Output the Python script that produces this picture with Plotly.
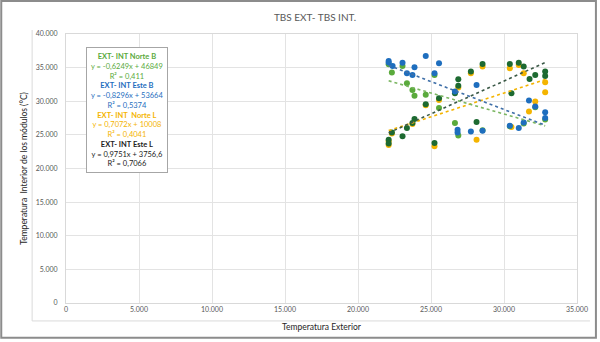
import plotly.graph_objects as go

# ---------------- data ----------------
# Norte L (gold)
nl_x = [22100, 22100, 22320, 23730, 24640, 25240, 25550, 26870, 27730, 28120, 28530, 30400, 30510, 31010, 31350, 31710, 32140, 32820, 32820]
nl_y = [24050, 23500, 25200, 26600, 29400, 23300, 30200, 32040, 34160, 24290, 35150, 34900, 26170, 35400, 34160, 28480, 29970, 32830, 31350]
# Este L (dark green)
el_x = [22100, 22100, 22320, 23050, 23350, 23730, 23870, 24640, 25240, 25550, 26640, 26870, 26870, 27730, 28120, 28530, 30400, 30510, 31010, 31350, 31750, 32140, 32820, 32820]
el_y = [24290, 23700, 25370, 24780, 26020, 26760, 27350, 29570, 23800, 30460, 31200, 33280, 32290, 34410, 26900, 35540, 35540, 31200, 35740, 35150, 33320, 33910, 34410, 33770]
# Norte B (light green)
nb_x = [22100, 22320, 23050, 23350, 23730, 23870, 24640, 25240, 25550, 26640, 26870, 28530, 30400, 31350, 32140, 32820]
nb_y = [35500, 34260, 35250, 32680, 31690, 30800, 30950, 33910, 28980, 26760, 24920, 25700, 26300, 26700, 29100, 27300]
# Este B (blue)
eb_x = [22100, 22100, 22370, 23050, 23350, 23730, 23870, 24640, 25240, 25550, 26640, 26820, 26820, 27730, 28120, 28530, 30400, 31010, 31350, 31710, 32140, 32820, 32820]
eb_y = [36000, 35750, 35250, 35740, 34160, 33910, 35040, 36730, 34160, 35650, 31450, 25770, 25370, 25520, 32430, 25620, 26360, 26020, 26850, 30110, 29220, 28380, 27500]

series_names = ["EXT- INT Norte L", "EXT- INT Este L", "EXT- INT Norte B", "EXT- INT Este B"]
trend_slope = [0.7072, 0.9751, -0.6249, -0.8296]
trend_icpt = [10008, 3756.6, 46849, 53664]
eq_text = ["y = -0,6249x + 46849", "R² = 0,411",
           "y = -0,8296x + 53664", "R² = 0,5374",
           "y = 0,7072x + 10008", "R² = 0,4041",
           "y = 0,9751x + 3756,6", "R² = 0,7066"]

x_ticks = [0, 5000, 10000, 15000, 20000, 25000, 30000, 35000]
y_ticks = [0, 5000, 10000, 15000, 20000, 25000, 30000, 35000, 40000]

# ---------------- styling ----------------
C_GOLD = "#F4B400"
C_DKGREEN = "#1D6A31"
C_GREEN = "#5AAA3C"
C_BLUE = "#1E6EBE"
FONT = "Lato"

data = [(nl_x, nl_y, C_GOLD), (el_x, el_y, C_DKGREEN), (nb_x, nb_y, C_GREEN), (eb_x, eb_y, C_BLUE)]
trend_colors = [C_GOLD, "#3C5A48", "#7BB661", "#3F6FA8"]

fig = go.Figure()
for (xs, ys, col), name in zip(data, series_names):
    fig.add_trace(go.Scatter(x=xs, y=ys, mode="markers", name=name,
                             marker=dict(color=col, size=6, line=dict(width=0))))
for (xs, ys, col), m, b, tc in zip(data, trend_slope, trend_icpt, trend_colors):
    x0, x1 = min(xs), max(xs)
    fig.add_trace(go.Scatter(x=[x0, x1], y=[m * x0 + b, m * x1 + b], mode="lines",
                             line=dict(color=tc, width=1.6, dash="dot"), hoverinfo="skip"))

L, R, T, B = 66, 21, 34, 38
PW, PH = 600 - L - R, 342 - T - B

def px(xp):
    return (xp - L) / PW

def py(yp):
    return (342 - B - yp) / PH

box_text = (
    f"<b><span style='color:{C_GREEN}'>EXT- INT Norte B</span></b><br>"
    f"<span style='color:{C_GREEN}'>{eq_text[0]}</span><br>"
    f"<span style='color:{C_GREEN}'>{eq_text[1]}</span><br>"
    f"<b><span style='color:{C_BLUE}'>EXT- INT Este B</span></b><br>"
    f"<span style='color:{C_BLUE}'>{eq_text[2]}</span><br>"
    f"<span style='color:{C_BLUE}'>{eq_text[3]}</span><br>"
    f"<b><span style='color:{C_GOLD}'>EXT- INT  Norte L</span></b><br>"
    f"<span style='color:{C_GOLD}'>{eq_text[4]}</span><br>"
    f"<span style='color:{C_GOLD}'>{eq_text[5]}</span><br>"
    f"<b><span style='color:#222222'>EXT- INT Este L</span></b><br>"
    f"<span style='color:#222222'>{eq_text[6]}</span><br>"
    f"<span style='color:#222222'>{eq_text[7]}</span>"
)

fig.update_layout(
    width=600, height=342,
    margin=dict(l=L, r=R, t=T, b=B, pad=0),
    paper_bgcolor="white", plot_bgcolor="white",
    separators=",.",
    showlegend=False,
    font=dict(family=FONT, size=7, color="#595959"),
    title=dict(text="TBS EXT- TBS INT.", x=0.525, xanchor="center", y=1 - 17 / 342, yanchor="middle",
               font=dict(family=FONT, size=10, color="#595959")),
    xaxis=dict(range=[0, 35000], tickvals=x_ticks, tickformat=",d", showgrid=True, gridcolor="#E3E3E3",
               gridwidth=1, zeroline=False, showline=True, linecolor="#D9D9D9", mirror=True,
               ticks="", tickfont=dict(size=7, color="#595959"),
               title=dict(text="Temperatura Exterior", font=dict(family=FONT, size=8.5, color="#262626"),
                          standoff=11)),
    yaxis=dict(range=[0, 40000], tickvals=y_ticks, tickformat=",d", showgrid=True, gridcolor="#E3E3E3",
               gridwidth=1, zeroline=False, showline=True, linecolor="#D9D9D9", mirror=True,
               ticks="", ticklabelstandoff=6, tickfont=dict(size=7, color="#595959"),
               title=dict(text="Temperatura  Interior de los módulos (°C)",
                          font=dict(family=FONT, size=8.5, color="#262626"), standoff=6)),
    annotations=[dict(text=box_text, xref="paper", yref="paper", x=px(127), y=py(110),
                      xanchor="center", yanchor="middle", showarrow=False, align="center",
                      font=dict(family=FONT, size=7.5), bordercolor="#A6A6A6", borderwidth=1,
                      borderpad=4, bgcolor="white")],
    shapes=[
        dict(type="rect", xref="paper", yref="paper", x0=px(1), x1=px(598), y0=py(339), y1=py(1),
             line=dict(color="#8C8C8C", width=2), layer="above"),
        dict(type="line", xref="paper", yref="paper", x0=px(32), x1=px(32), y0=py(322), y1=py(30),
             line=dict(color="#DADADA", width=1)),
        dict(type="line", xref="paper", yref="paper", x0=px(32), x1=px(592), y0=py(322), y1=py(322),
             line=dict(color="#DADADA", width=1)),
    ],
)

fig.write_html("out.html")
